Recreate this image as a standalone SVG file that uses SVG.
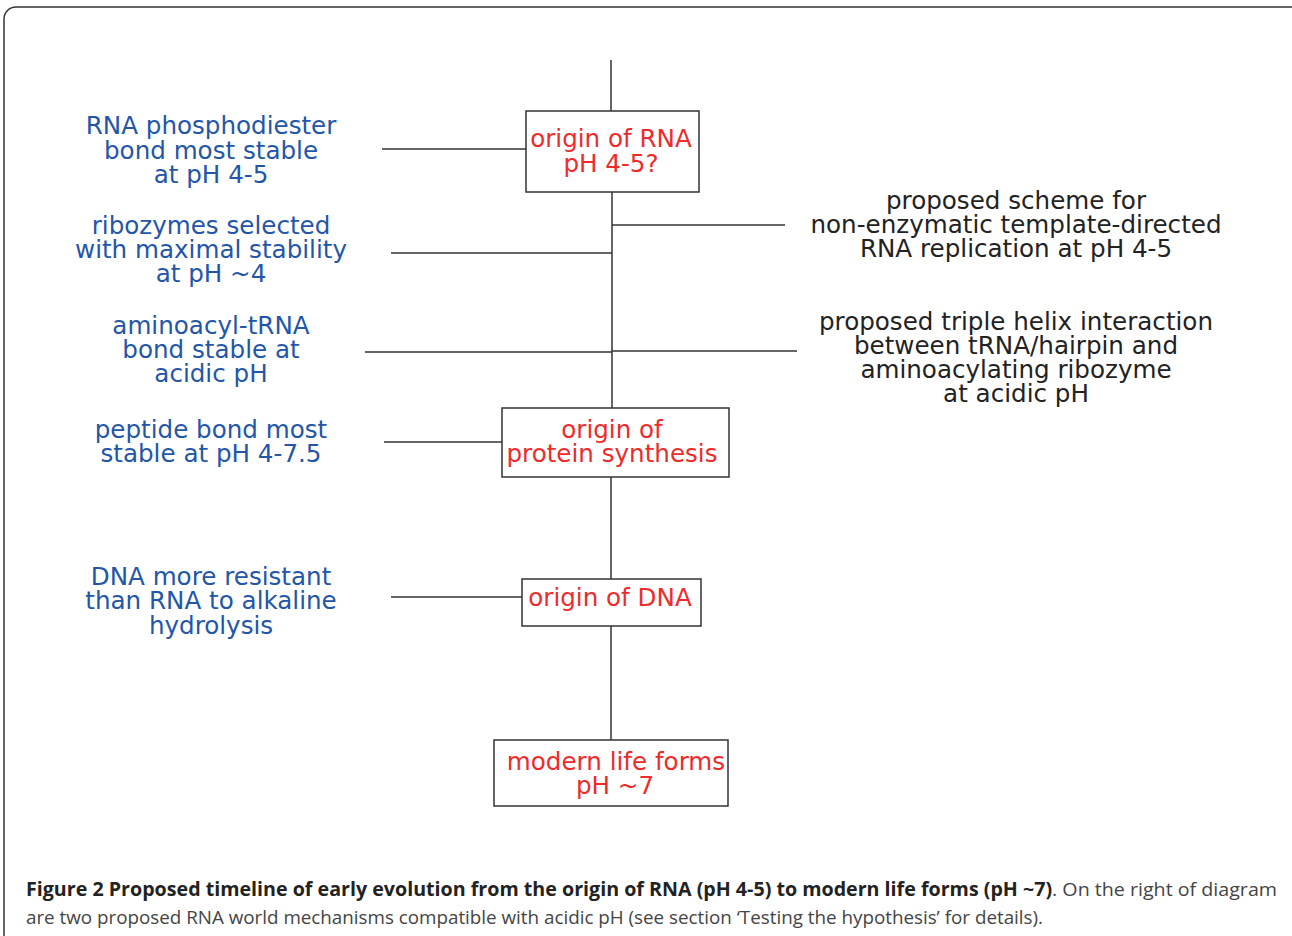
<svg xmlns="http://www.w3.org/2000/svg" width="1292" height="936" viewBox="0 0 1292 936">
<style>
.ln{stroke:#333;stroke-width:1.5;fill:none}
.box{fill:#fff;stroke:#333;stroke-width:1.5}
.t{font-family:"DejaVu Sans",sans-serif;font-size:24.6px;text-anchor:middle}
.b{fill:#2356a8}
.r{fill:#ee2b2b}
.k{fill:#222}
.cap{font-family:"Open Sans","Noto Sans",sans-serif;font-size:18.8px;fill:#444}
</style>
<rect x="4" y="7" width="1300" height="950" rx="12" fill="#fff" stroke="#333" stroke-width="1.5"/>
<g id="connectors">
<line class="ln" x1="611" y1="60" x2="611" y2="111"/>
<line class="ln" x1="612" y1="192" x2="612" y2="408"/>
<line class="ln" x1="611" y1="477" x2="611" y2="579"/>
<line class="ln" x1="611" y1="626" x2="611" y2="740"/>
<line class="ln" x1="382" y1="149" x2="526" y2="149"/>
<line class="ln" x1="612" y1="225" x2="785" y2="225"/>
<line class="ln" x1="391" y1="253" x2="612" y2="253"/>
<line class="ln" x1="365" y1="352" x2="612" y2="352"/>
<line class="ln" x1="612" y1="351" x2="797" y2="351"/>
<line class="ln" x1="384" y1="442" x2="502" y2="442"/>
<line class="ln" x1="391" y1="597" x2="522" y2="597"/>
</g>
<g id="n-rna">
<rect class="box" x="526" y="111" width="173" height="81"/>
<text class="t r" x="611"><tspan x="611" y="147">origin of RNA</tspan><tspan x="611" y="172">pH 4-5?</tspan></text>
</g>
<g id="n-protein">
<rect class="box" x="502" y="408" width="227" height="69"/>
<text class="t r"><tspan x="612" y="438">origin of</tspan><tspan x="612" y="462">protein synthesis</tspan></text>
</g>
<g id="n-dna">
<rect class="box" x="522" y="579" width="179" height="47"/>
<text class="t r"><tspan x="610" y="606">origin of DNA</tspan></text>
</g>
<g id="n-modern">
<rect class="box" x="494" y="740" width="234" height="66"/>
<text class="t r"><tspan x="616" y="770">modern life forms</tspan><tspan x="615" y="794">pH ~7</tspan></text>
</g>
<g id="l-phospho">
<text class="t b"><tspan x="211" y="134">RNA phosphodiester</tspan><tspan x="211" y="159">bond most stable</tspan><tspan x="211" y="183">at pH 4-5</tspan></text>
</g>
<g id="l-ribozymes">
<text class="t b"><tspan x="211" y="234">ribozymes selected</tspan><tspan x="211" y="258">with maximal stability</tspan><tspan x="211" y="282">at pH ~4</tspan></text>
</g>
<g id="l-aminoacyl">
<text class="t b"><tspan x="211" y="334">aminoacyl-tRNA</tspan><tspan x="211" y="358">bond stable at</tspan><tspan x="211" y="382">acidic pH</tspan></text>
</g>
<g id="l-peptide">
<text class="t b"><tspan x="211" y="438">peptide bond most</tspan><tspan x="211" y="462">stable at pH 4-7.5</tspan></text>
</g>
<g id="l-dna">
<text class="t b"><tspan x="211" y="585">DNA more resistant</tspan><tspan x="211" y="609">than RNA to alkaline</tspan><tspan x="211" y="634">hydrolysis</tspan></text>
</g>
<g id="r-scheme">
<text class="t k"><tspan x="1016" y="209">proposed scheme for</tspan><tspan x="1016" y="233">non-enzymatic template-directed</tspan><tspan x="1016" y="257">RNA replication at pH 4-5</tspan></text>
</g>
<g id="r-triple">
<text class="t k"><tspan x="1016" y="330">proposed triple helix interaction</tspan><tspan x="1016" y="354">between tRNA/hairpin and</tspan><tspan x="1016" y="378">aminoacylating ribozyme</tspan><tspan x="1016" y="402">at acidic pH</tspan></text>
</g>
<g id="caption">
<text class="cap" x="26" y="896" textLength="1251" lengthAdjust="spacingAndGlyphs"><tspan font-weight="bold" fill="#222">Figure 2 Proposed timeline of early evolution from the origin of RNA (pH 4-5) to modern life forms (pH ~7)</tspan>. On the right of diagram</text>
<text class="cap" x="26" y="924" textLength="1017" lengthAdjust="spacingAndGlyphs">are two proposed RNA world mechanisms compatible with acidic pH (see section ‘Testing the hypothesis’ for details).</text>
</g>
</svg>
